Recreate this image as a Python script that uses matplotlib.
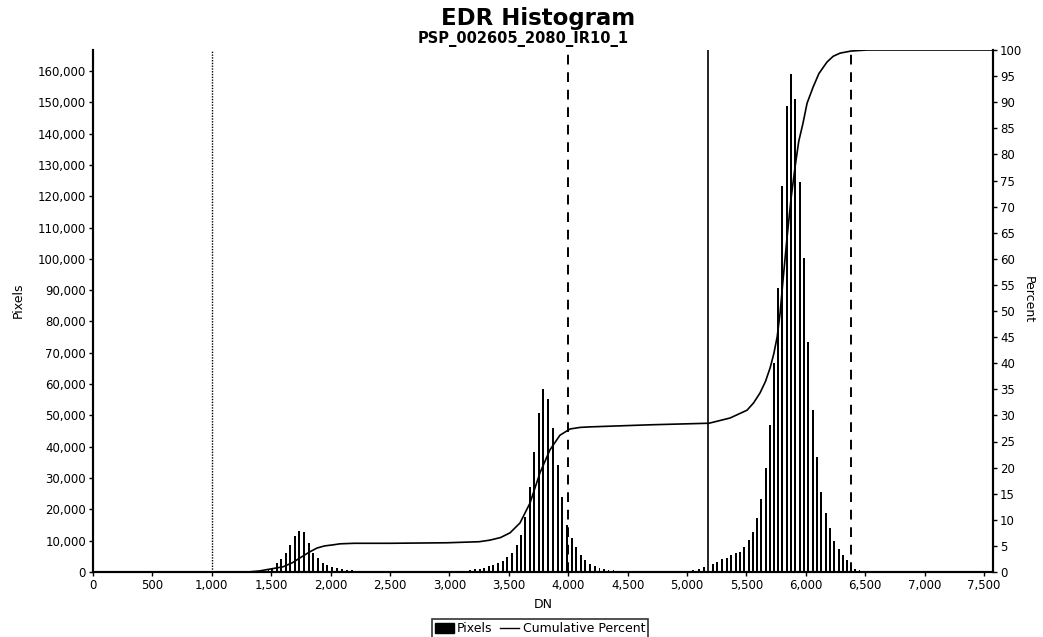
import numpy as np
from matplotlib import pyplot as plt
from matplotlib.ticker import StrMethodFormatter, MultipleLocator
from matplotlib.lines import Line2D
from matplotlib.patches import Patch

# histogram bars (DN bin centre, pixel count)
dn_low = [1404, 1440, 1477, 1507, 1549, 1582, 1625, 1658, 1700, 1734, 1776, 1818, 1852, 1894,
          1936, 1970, 2012, 2054, 2096, 2138, 2180, 2222, 2260]
px_low = [100, 300, 600, 1200, 2900, 4200, 6100, 8600, 11500, 13100, 12800, 9300, 6100, 4500,
          2900, 2200, 1600, 1300, 900, 600, 500, 300, 200]

dn_gap1 = [2950, 2990, 3030, 3070, 3110]
px_gap1 = [150, 150, 200, 250, 300]

dn_mid = [3173, 3215, 3257, 3291, 3333, 3367, 3409, 3451, 3485, 3527, 3569, 3603, 3636, 3678,
          3712, 3754, 3788, 3830, 3872, 3914, 3948, 3990, 4032, 4066, 4108, 4141, 4184, 4225,
          4262, 4300, 4340, 4380, 4420, 4460, 4500, 4540]
px_mid = [600, 900, 1000, 1300, 1900, 2200, 2900, 3500, 4800, 6100, 8600, 11800, 17600, 27200,
          38300, 50800, 58500, 55300, 46000, 34200, 24000, 15000, 10900, 8000, 5400, 3800, 2600, 1800,
          1200, 900, 700, 500, 400, 300, 250, 200]

dn_gap2 = [4600, 4700, 4800, 4900, 4950, 5000, 5050, 5100, 5143]
px_gap2 = [150, 150, 200, 250, 300, 400, 600, 900, 1600]

dn_high = [5219, 5253, 5295, 5337, 5370, 5412, 5446, 5480, 5522, 5556, 5589, 5623, 5665, 5699,
           5732, 5766, 5800, 5842, 5875, 5909, 5951, 5985, 6019, 6061, 6094, 6128, 6170, 6204,
           6237, 6279, 6313, 6347, 6380, 6414, 6450, 6490, 6530, 6570, 6610, 6650]
px_high = [2500, 3200, 4200, 4500, 5400, 6100, 6400, 8000, 10200, 12800, 17200, 23300, 33200, 47000,
           66800, 90700, 123300, 148900, 159100, 151100, 124600, 100300, 73500, 51800, 36700, 25600, 18800, 14000,
           9900, 7300, 5400, 3800, 1600, 800, 500, 300, 250, 200, 150, 120]

# cumulative percent curve
cum_dn = [0, 1300, 1400, 1500, 1600, 1680, 1742, 1820, 1886, 1950, 2020, 2079, 2200, 2500, 2980,
          3250, 3340, 3430, 3510, 3594, 3678, 3762, 3846, 3930, 4015, 4100, 4183, 4690, 5185,
          5362, 5505, 5560, 5614, 5660, 5699, 5730, 5758, 5783, 5810, 5842, 5875, 5909, 5940,
          5976, 6010, 6061, 6110, 6178, 6230, 6288, 6380, 6515, 7575]
cum_pct = [0, 0, 0.2, 0.6, 1.0, 1.8, 2.7, 3.8, 4.6, 5.0, 5.2, 5.4, 5.5, 5.5, 5.6,
           5.8, 6.1, 6.6, 7.5, 9.4, 13.2, 19.0, 23.4, 26.2, 27.4, 27.7, 27.8, 28.2, 28.5,
           29.5, 31.0, 32.4, 34.3, 36.5, 39.1, 41.8, 45.0, 49.6, 56.5, 64.2, 71.5, 77.6, 82.5,
           86.0, 89.8, 92.9, 95.5, 97.7, 98.8, 99.4, 99.8, 100, 100]

# marker lines
dotted_dn = 1000
dashed_dn = [4000, 6380]
solid_dn = 5180

fig = plt.figure(figsize=(10.43, 6.37), dpi=100)
ax = fig.add_axes([93 / 1043, 1 - 572 / 637, 900 / 1043, 522 / 637])
ax2 = ax.twinx()

for d, p in [(dn_low, px_low), (dn_gap1, px_gap1), (dn_mid, px_mid), (dn_gap2, px_gap2), (dn_high, px_high)]:
    ax.bar(d, p, width=13, color='black', linewidth=0)

ax2.plot(cum_dn, cum_pct, color='black', lw=1.2)

ax.axvline(dotted_dn, color='black', lw=1.0, linestyle=(0, (1, 1)))
for d in dashed_dn:
    ax.axvline(d, color='black', lw=1.4, linestyle=(0, (5, 4)))
ax.axvline(solid_dn, color='black', lw=1.2)

ax.set_xlim(0, 7575)
ax.set_ylim(0, 166700)
ax2.set_ylim(0, 100)

ax.xaxis.set_major_locator(MultipleLocator(500))
ax.yaxis.set_major_locator(MultipleLocator(10000))
ax2.yaxis.set_major_locator(MultipleLocator(5))
ax.xaxis.set_major_formatter(StrMethodFormatter('{x:,.0f}'))
ax.yaxis.set_major_formatter(StrMethodFormatter('{x:,.0f}'))

for a in (ax, ax2):
    a.spines['top'].set_visible(False)
    for s in a.spines.values():
        s.set_linewidth(1.5)
    a.tick_params(direction='out', length=3, width=1, labelsize=8.5, pad=2)

ax.set_xlabel('DN', fontsize=9, labelpad=4)

fig.text(18 / 1043, 1 - 300 / 637, 'Pixels', rotation=90, ha='center', va='center', fontsize=9)
fig.text(1028 / 1043, 1 - 300 / 637, 'Percent', rotation=-90, ha='center', va='center', fontsize=9)

fig.text(538 / 1043, 1 - 18 / 637, 'EDR Histogram', ha='center', va='center', fontsize=16.5, fontweight='bold')
fig.text(523 / 1043, 1 - 39 / 637, 'PSP_002605_2080_IR10_1', ha='center', va='center', fontsize=10.5,
         fontweight='bold')

handles = [Patch(facecolor='black', edgecolor='black'),
           Line2D([0], [0], color='black', lw=1)]
leg = fig.legend(handles, ['Pixels', 'Cumulative Percent'], loc='lower center',
                 bbox_to_anchor=(540 / 1043, -0.012), ncol=2, fontsize=9, frameon=True, fancybox=False,
                 handlelength=1.5, handletextpad=0.3, columnspacing=0.6, borderpad=0.25,
                 handleheight=0.8)
leg.get_frame().set_edgecolor('black')
leg.get_frame().set_linewidth(1.2)

plt.savefig('out.png', dpi=100)
